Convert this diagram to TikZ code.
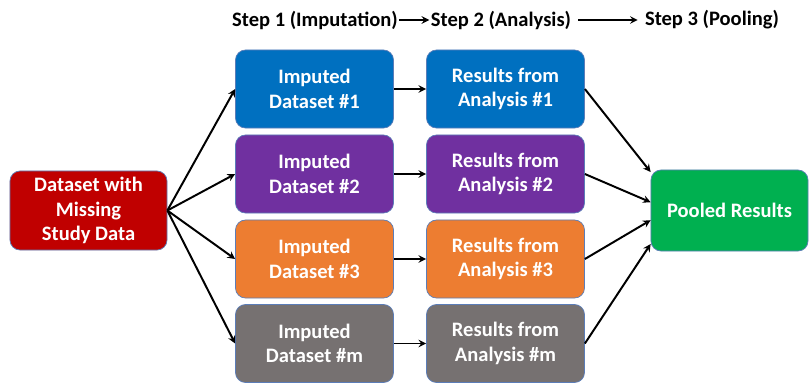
\documentclass[tikz,border=0pt]{standalone}
\usepackage{fontspec}
\setmainfont{Carlito}
\usepackage{tikz}
\usetikzlibrary{arrows}
\usepackage{xcolor}
\definecolor{rosso}{HTML}{C00000}
\definecolor{blu}{HTML}{0070C0}
\definecolor{viola}{HTML}{7030A0}
\definecolor{arancio}{HTML}{ED7D31}
\definecolor{grigio}{HTML}{767171}
\definecolor{verde}{HTML}{00B050}
\definecolor{bordo}{HTML}{5B7DB8}

\begin{document}
\begin{tikzpicture}[x=0.025cm,y=-0.025cm,>=stealth,
  box/.style={draw=bordo,line width=0.5pt,rounded corners=0.25cm,text=white,
    font=\fontsize{14.6}{17.5}\selectfont\bfseries,align=center,
    minimum width=3.95cm,minimum height=1.95cm,inner sep=2pt},
  freccia/.style={->,line width=1.4pt},
  passo/.style={font=\fontsize{14.6}{17}\selectfont\bfseries,inner sep=1pt}]
\useasboundingbox (0,0) rectangle (809,383);
% intestazione: i tre passi
\node[passo] (step1) at (315,20) {Step 1 (Imputation)};
\node[passo] (step2) at (501,20) {Step 2 (Analysis)};
\node[passo] (step3) at (712,20) {Step 3 (Pooling)};
\draw[freccia] (step1) -- (step2);
\draw[freccia] ([xshift=4pt]step2.east) -- ([xshift=-4pt]step3.west);
% dati con valori mancanti
\node[box,fill=rosso,minimum width=3.925cm,minimum height=1.975cm] (miss) at (88.5,210.5) {Dataset with\\Missing\\Study Data};
% imputazioni e analisi
\node[box,fill=blu] (imp1) at (314.5,89) {Imputed\\Dataset \#1};
\node[box,fill=viola] (imp2) at (314.5,174) {Imputed\\Dataset \#2};
\node[box,fill=arancio] (imp3) at (314.5,259) {Imputed\\Dataset \#3};
\node[box,fill=grigio] (imp4) at (314.5,343.5) {Imputed\\Dataset \#m};
\node[box,fill=blu] (ris1) at (505.5,89) {Results from\\Analysis \#1};
\node[box,fill=viola] (ris2) at (505.5,174) {Results from\\Analysis \#2};
\node[box,fill=arancio] (ris3) at (505.5,259) {Results from\\Analysis \#3};
\node[box,fill=grigio] (ris4) at (505.5,343.5) {Results from\\Analysis \#m};
% risultato combinato
\node[box,fill=verde,minimum width=3.925cm,minimum height=2.025cm] (pool) at (729.5,210.5) {Pooled Results};
% frecce
\foreach \i in {1,2,3,4} {
  \draw[freccia] (miss.east) -- (imp\i.west);
  \draw[freccia] (imp\i) -- (ris\i);
}
\draw[freccia] (ris1.east) -- (pool.154);
\draw[freccia] (ris2.east) -- (pool.174);
\draw[freccia] (ris3.east) -- (pool.187);
\draw[freccia] (ris4.east) -- (pool.203);
\end{tikzpicture}
\end{document}
